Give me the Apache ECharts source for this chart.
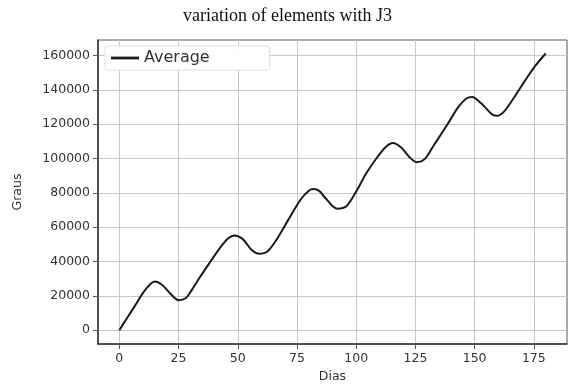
<!DOCTYPE html>
<html>
<head>
<meta charset="utf-8">
<script src="https://cdn.jsdelivr.net/npm/echarts@6/dist/echarts.min.js"></script>
<style>html,body{margin:0;padding:0;background:#fff}#c{width:575px;height:388px}</style>
</head>
<body>
<div id="c"></div>
<script>
var days = [0,3,6.5,10,13,15,18,21.5,25,28,30.5,34,38.5,42.5,46,48.5,52,56,59,62.5,66.5,71.5,76.5,80,82,84.5,87,92,96,100.5,104,108.5,112.5,115.5,119,122.5,125.5,129,133,138.5,143,146.5,149,152.5,155,157.5,159.5,162.5,167,171,175.5,180];
var average = [0,6500,14000,21700,26800,28400,26500,21400,17500,18600,23200,30800,40000,48000,53600,55200,53200,46500,44500,45800,53000,64700,76000,81200,82200,81000,77000,70800,72400,82000,90800,100000,106700,109000,106400,100800,97900,99800,108200,119800,129800,135000,135800,132500,129000,125600,124900,127500,136300,144800,153800,161200];
var xTicks = [0,25,50,75,100,125,150,175];
var yTicks = [0,20000,40000,60000,80000,100000,120000,140000,160000];

var chart = echarts.init(document.getElementById('c'), null, {renderer:'canvas'});
var lab = {fontFamily:'DejaVu Sans', fontSize:12.5, color:'#333', formatter:function(v){return String(v);}};
chart.setOption({
  animation:false,
  backgroundColor:'#fff',
  title:{text:'variation of elements with J3', left:'center', top:2, textStyle:{fontFamily:'Liberation Serif', fontSize:18, fontWeight:'normal', color:'#111'}},
  legend:{data:['Average'], left:105, top:46, icon:'path://M0,0L10,0L10,1L0,1Z', itemWidth:28, itemHeight:3, itemGap:8,
    padding:[4,60,4,6], backgroundColor:'rgba(255,255,255,0.9)', borderColor:'#e0e0e0', borderWidth:1, borderRadius:2,
    textStyle:{fontFamily:'DejaVu Sans', fontSize:16, color:'#333'}},
  grid:{left:98, right:8, top:40, bottom:42, show:true, borderColor:'#555', borderWidth:1},
  xAxis:{type:'value', min:-9, max:189, name:'Dias', nameLocation:'middle', nameGap:26,
    nameTextStyle:{fontFamily:'DejaVu Sans', fontSize:12.5, color:'#333'},
    axisLine:{show:true, onZero:false, lineStyle:{color:'#333', width:1.5}},
    axisTick:{show:true, customValues:xTicks, length:5, lineStyle:{color:'#555'}},
    axisLabel:Object.assign({customValues:xTicks, margin:8}, lab),
    splitLine:{show:true, lineStyle:{color:'#c8c8c8', width:1}}},
  yAxis:{type:'value', min:-8050, max:169050, name:'Graus', nameLocation:'middle', nameGap:74,
    nameTextStyle:{fontFamily:'DejaVu Sans', fontSize:12.5, color:'#333'},
    axisLine:{show:true, onZero:false, lineStyle:{color:'#333', width:1.5}},
    axisTick:{show:true, customValues:yTicks, length:5, lineStyle:{color:'#555'}},
    axisLabel:Object.assign({customValues:yTicks, margin:8}, lab),
    splitLine:{show:true, lineStyle:{color:'#c8c8c8', width:1}}},
  series:[{name:'Average', type:'line', data:days.map(function(d,i){return [d, average[i]];}),
    smooth:0.3, showSymbol:false, lineStyle:{color:'#1a1a1a', width:2}, itemStyle:{color:'#1a1a1a'}}]
});
</script>
</body>
</html>
